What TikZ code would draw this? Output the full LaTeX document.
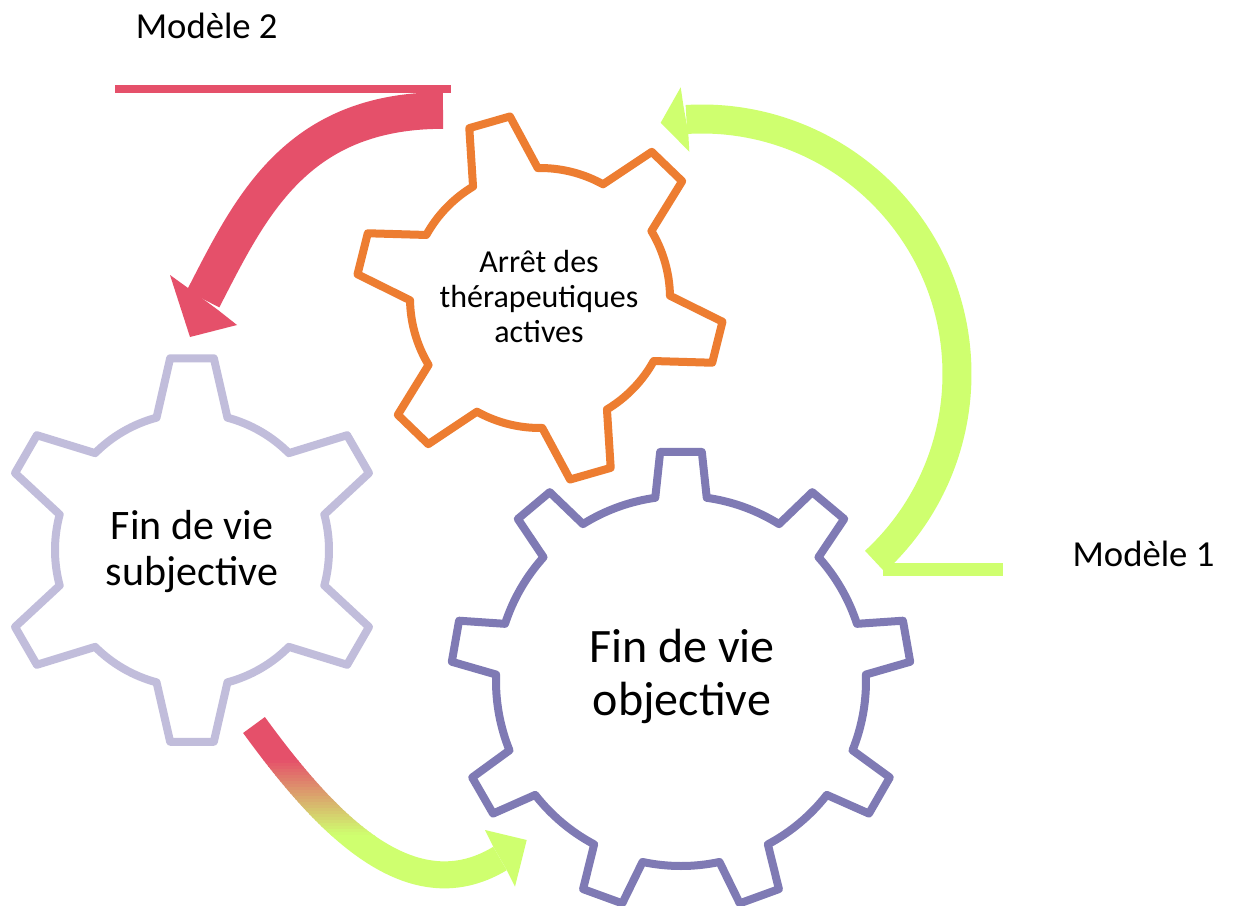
\documentclass[tikz,border=0pt]{standalone}
\usepackage{fontspec}
\setmainfont{Carlito}
\definecolor{gearlight}{HTML}{C1BDDB}
\definecolor{geardark}{HTML}{7F7AB4}
\definecolor{gearorange}{HTML}{ED7D31}
\definecolor{arrowred}{HTML}{E5506A}
\definecolor{arrowgreen}{HTML}{CFFF6F}
\tikzset{
  gearline/.style={line width=6pt, line join=round},
  lbl/.style={inner sep=0pt, align=center, text=black},
}
\newcommand\mygear[9]{%
  \begin{scope}[shift={(#2,#3)}]
    \pgfmathsetmacro\gstep{360/#6}
    \draw[gearline,#1] ({#7-#9}:#5)
      \foreach \k in {1,...,#6}{
        -- ({#7+(\k-1)*\gstep-#8}:#4)
        -- ({#7+(\k-1)*\gstep+#8}:#4)
        -- ({#7+(\k-1)*\gstep+#9}:#5)
        arc[start angle={#7+(\k-1)*\gstep+#9}, end angle={#7+\k*\gstep-#9}, radius=#5]
      } -- cycle;
  \end{scope}}
\newcommand\gradshaft[1]{\draw[line width=20.25pt,#1] (gs) .. controls (gc1) and (gc2) .. (ge);}
\begin{document}
\begin{tikzpicture}[x=0.75pt,y=0.75pt]
\fill[white] (0,0) rectangle (1233,-906);
\useasboundingbox (0,0) rectangle (1233,-906);

% gears
\mygear{gearlight}{192}{-550}{193}{137}{6}{90}{6.5}{15}
\mygear{gearorange}{540}{-298}{184}{130}{6}{46}{6.6}{15}
\mygear{geardark}{681}{-681}{230}{185}{9}{90}{5.2}{8}

% texts (base anchor = baseline of the last line)
\node[lbl, font=\fontsize{24pt}{26.25pt}\selectfont, anchor=base] (arret) at (539,-342) {Arrêt des\\thérapeutiques\\actives};
\node[lbl, font=\fontsize{31.5pt}{35pt}\selectfont, anchor=base] (subj) at (192,-585.7) {Fin de vie\\subjective};
\node[lbl, font=\fontsize{36pt}{39.2pt}\selectfont, anchor=base] (obj) at (682,-715) {Fin de vie\\objective};
\node[lbl, font=\fontsize{27.5pt}{32pt}\selectfont, anchor=base] (m2) at (206.7,-38.3) {Modèle 2};
\node[lbl, font=\fontsize{27.5pt}{32pt}\selectfont, anchor=base] (m1) at (1143.5,-566.7) {Modèle 1};

% red arrow (Modele 2)
\coordinate (rs) at (443,-110.5);
\coordinate (rc1) at (295,-110.5);
\coordinate (rc2) at (250,-208);
\coordinate (re) at (203,-299);
\coordinate (rn1) at (188,-288);
\coordinate (rb1) at (170,-275);
\coordinate (rt) at (190,-337);
\coordinate (rb2) at (237,-325);
\coordinate (rn2) at (218,-310);
\fill[arrowred] (115,-85) rectangle (451,-93);
\draw[arrowred, line width=27.5pt] (rs) .. controls (rc1) and (rc2) .. (re);
\fill[arrowred] (rn1) -- (rb1) -- (rt) -- (rb2) -- (rn2) -- cycle;

% green arrow (Modele 1)
\coordinate (gctr) at (702,-374);
\coordinate (gn1) at (683.3,-105);
\coordinate (gb1) at (680.7,-87.3);
\coordinate (gt) at (660.7,-122.7);
\coordinate (gb2) at (689.3,-151.7);
\coordinate (gn2) at (688.3,-133.3);
\fill[arrowgreen] (883,-562.7) rectangle (1003,-575.5);
\draw[arrowgreen, line width=21.75pt] ([shift={(-47.3:255)}]gctr) arc[start angle=-47.3, end angle=93.5, radius=255];
\fill[arrowgreen] (gn1) -- (gb1) -- (gt) -- (gb2) -- (gn2) -- cycle;

% gradient arrow
\coordinate (gs) at (254,-725);
\coordinate (gc1) at (319,-814);
\coordinate (gc2) at (406.5,-915);
\coordinate (ge) at (500,-858.5);
\coordinate (hn1) at (493.3,-846.7);
\coordinate (hb1) at (485,-830);
\coordinate (ht) at (526.7,-840);
\coordinate (hb2) at (515,-886.7);
\coordinate (hn2) at (506.7,-870);
\begin{scope}
  \clip (0,-600) rectangle (1233,-760.5);
  \gradshaft{arrowred}
\end{scope}
\foreach \i in {0,...,24}{
  \pgfmathsetmacro\ytop{760+\i*3}
  \pgfmathsetmacro\ybot{763.5+\i*3}
  \pgfmathsetmacro\pc{100-(\i+0.5)*4}
  \begin{scope}
    \clip (0,-\ytop) rectangle (1233,-\ybot);
    \gradshaft{arrowred!\pc!arrowgreen}
  \end{scope}
}
\begin{scope}
  \clip (0,-835) rectangle (1233,-906);
  \gradshaft{arrowgreen}
\end{scope}
\fill[arrowgreen] (hn1) -- (hb1) -- (ht) -- (hb2) -- (hn2) -- cycle;
\end{tikzpicture}
\end{document}
